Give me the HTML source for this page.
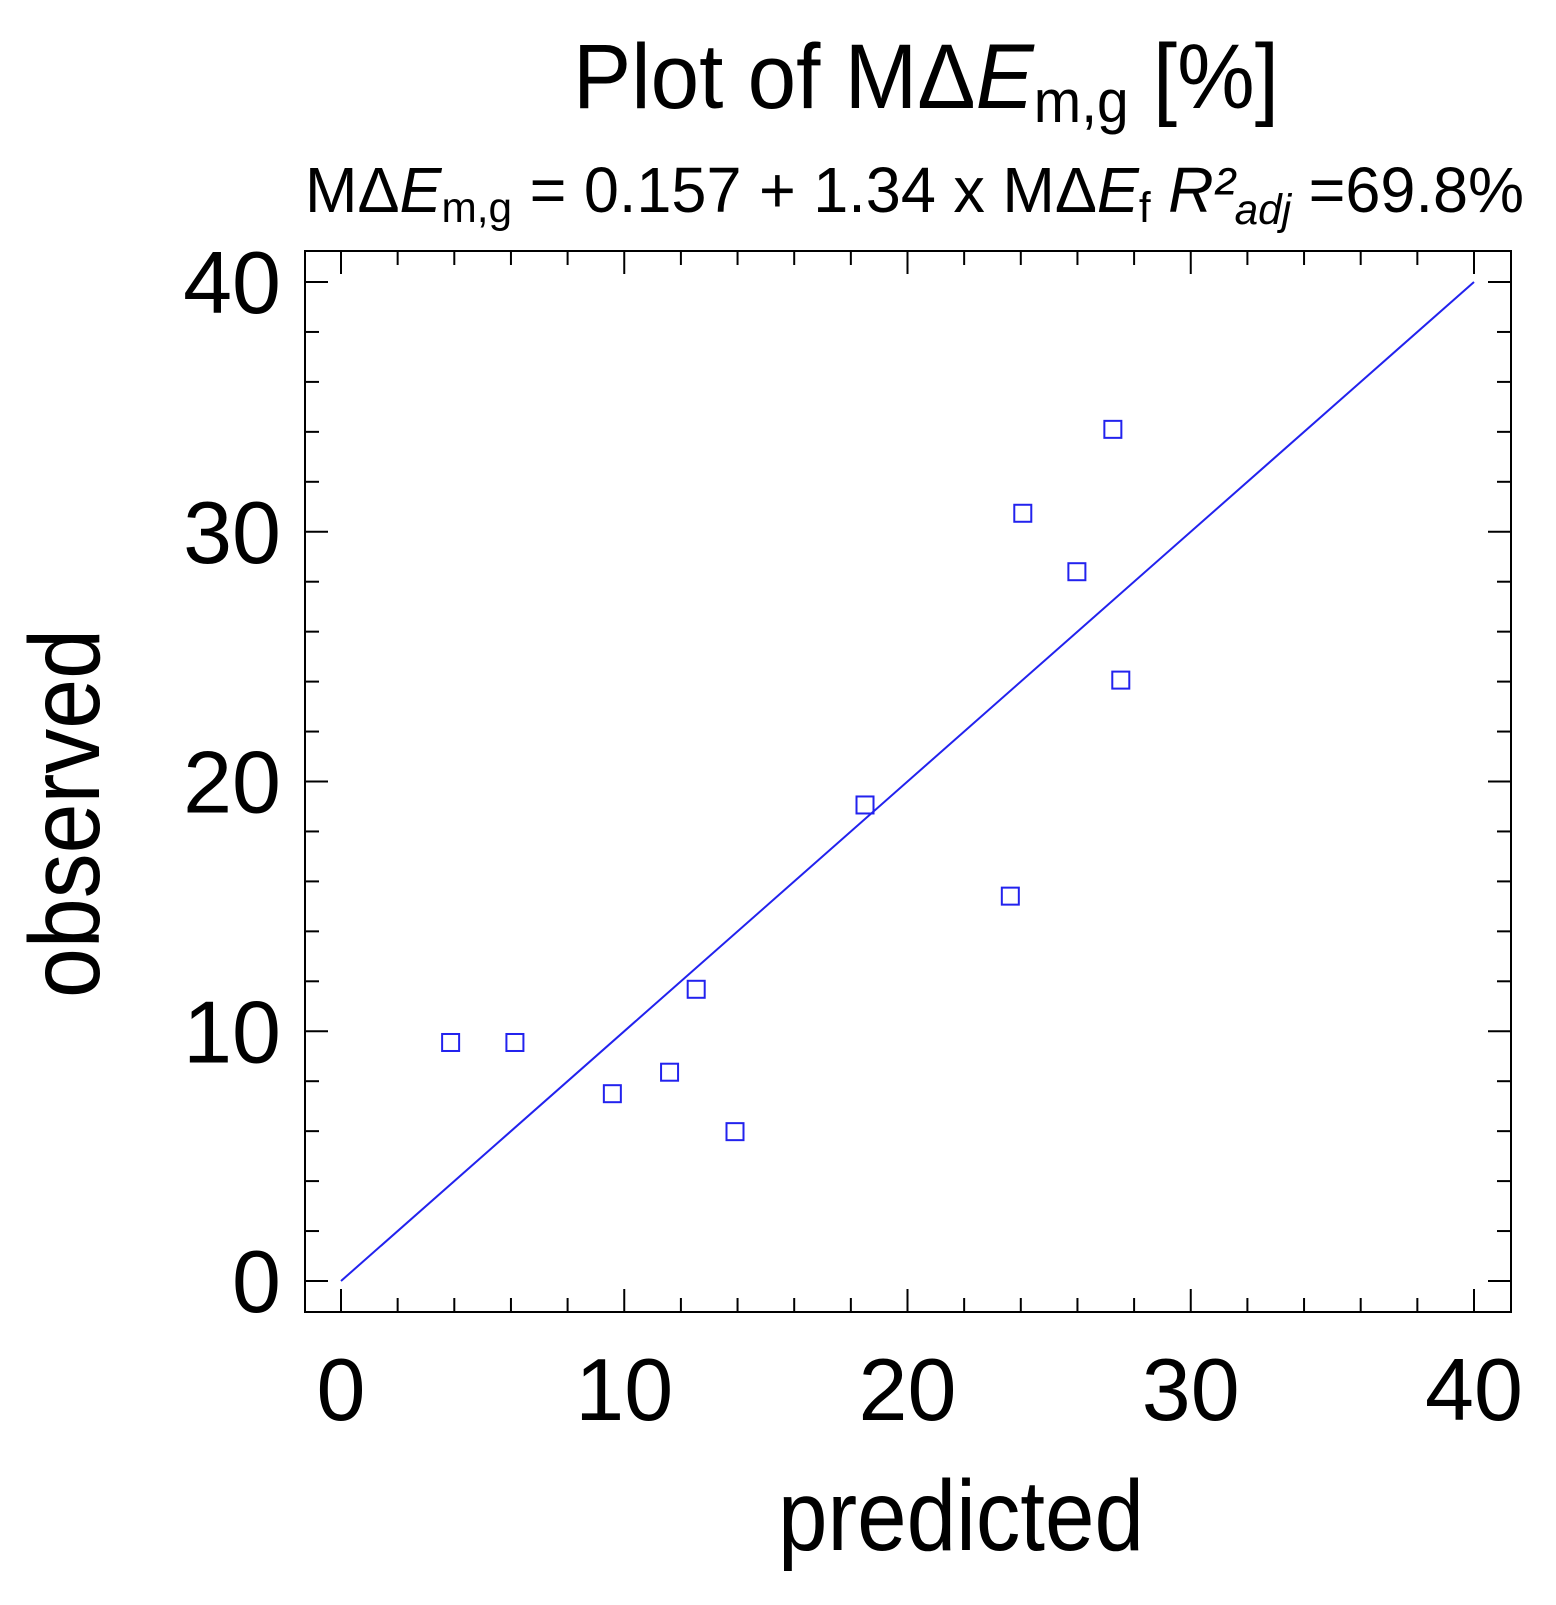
<!DOCTYPE html>
<html><head><meta charset="utf-8"><style>
html,body{margin:0;padding:0;background:#fff}
svg{display:block}
text{font-family:"Liberation Sans Narrow","Liberation Sans",sans-serif;fill:#000}
</style></head><body>
<svg id="chart" width="1556" height="1605" viewBox="0 0 1556 1605" xmlns="http://www.w3.org/2000/svg">
<text x="573" y="108" font-size="92" textLength="706" lengthAdjust="spacingAndGlyphs">Plot of MΔ<tspan font-style="italic">E</tspan><tspan font-size="60" dy="14">m,g</tspan><tspan dy="-14"> [%]</tspan></text>
<text x="305" y="212" font-size="64" textLength="1219" lengthAdjust="spacingAndGlyphs">MΔ<tspan font-style="italic">E</tspan><tspan font-size="43" dy="10">m,g</tspan><tspan dy="-10"> = 0.157 + 1.34 x MΔ</tspan><tspan font-style="italic">E</tspan><tspan font-size="43" dy="10">f</tspan><tspan dy="-10">   </tspan><tspan font-style="italic">R²</tspan><tspan font-style="italic" font-size="43" dy="12">adj</tspan><tspan dy="-12"> =69.8%</tspan></text>
<rect x="305" y="251" width="1206" height="1061" fill="none" stroke="#000" stroke-width="2"/>
<g id="ticks"></g>
<g id="labels"></g>
<line id="fit" stroke="#2222ee" stroke-width="2"/>
<g id="pts"></g>
<text x="778" y="1550" font-size="100" textLength="366" lengthAdjust="spacingAndGlyphs">predicted</text>
<text transform="translate(99,998) rotate(-90)" font-size="100" textLength="369" lengthAdjust="spacingAndGlyphs">observed</text>
</svg>
<script>
const predicted = [3.87, 6.14, 9.58, 11.6, 12.54, 13.91, 18.5, 23.63, 24.07, 25.98, 27.25, 27.53];
const observed = [9.55, 9.55, 7.5, 8.36, 11.68, 5.98, 19.06, 15.41, 30.74, 28.4, 34.1, 24.06];
const xTicks = [0, 10, 20, 30, 40];
const yTicks = [0, 10, 20, 30, 40];
const fitLine = [0, 40];
const NS = "http://www.w3.org/2000/svg";
const X0 = 341, X1 = 1474, Y0 = 1281, Y1 = 282, L = 305, R = 1511, T = 251, B = 1312;
const sx = v => X0 + (X1 - X0) * v / 40;
const sy = v => Y0 - (Y0 - Y1) * v / 40;
function mk(tag, attrs) { const e = document.createElementNS(NS, tag); for (const k in attrs) e.setAttribute(k, attrs[k]); return e; }
const tg = document.getElementById('ticks');
for (let v = 0; v <= 40; v += 2) {
  const major = v % 10 === 0, len = major ? 23 : 14;
  const x = sx(v), y = sy(v);
  [[x, B, x, B - len], [x, T, x, T + len], [L, y, L + len, y], [R, y, R - len, y]].forEach(c => {
    const ln = mk('line', {x1: c[0], y1: c[1], x2: c[2], y2: c[3], stroke: '#000', 'stroke-width': 2});
    
    
    tg.appendChild(ln);
  });
}
const lg = document.getElementById('labels');
xTicks.forEach(v => {
  const t = mk('text', {x: sx(v), y: 1420, 'font-size': 88, 'text-anchor': 'middle'});
  t.textContent = v;
  
  
  lg.appendChild(t);
});
yTicks.forEach(v => {
  const t = mk('text', {x: 281, y: sy(v) + 31, 'font-size': 88, 'text-anchor': 'end'});
  t.textContent = v;
  
  
  lg.appendChild(t);
});
const fl = document.getElementById('fit');
fl.setAttribute('x1', sx(fitLine[0])); fl.setAttribute('y1', sy(fitLine[0]));
fl.setAttribute('x2', sx(fitLine[1])); fl.setAttribute('y2', sy(fitLine[1]));
const pg = document.getElementById('pts');
predicted.forEach((p, i) => {
  const r = mk('rect', {x: sx(p) - 8.5, y: sy(observed[i]) - 8.5, width: 17, height: 17, fill: 'none', stroke: '#2222ee', 'stroke-width': 2});
  
  
  pg.appendChild(r);
});
</script>
</body></html>
